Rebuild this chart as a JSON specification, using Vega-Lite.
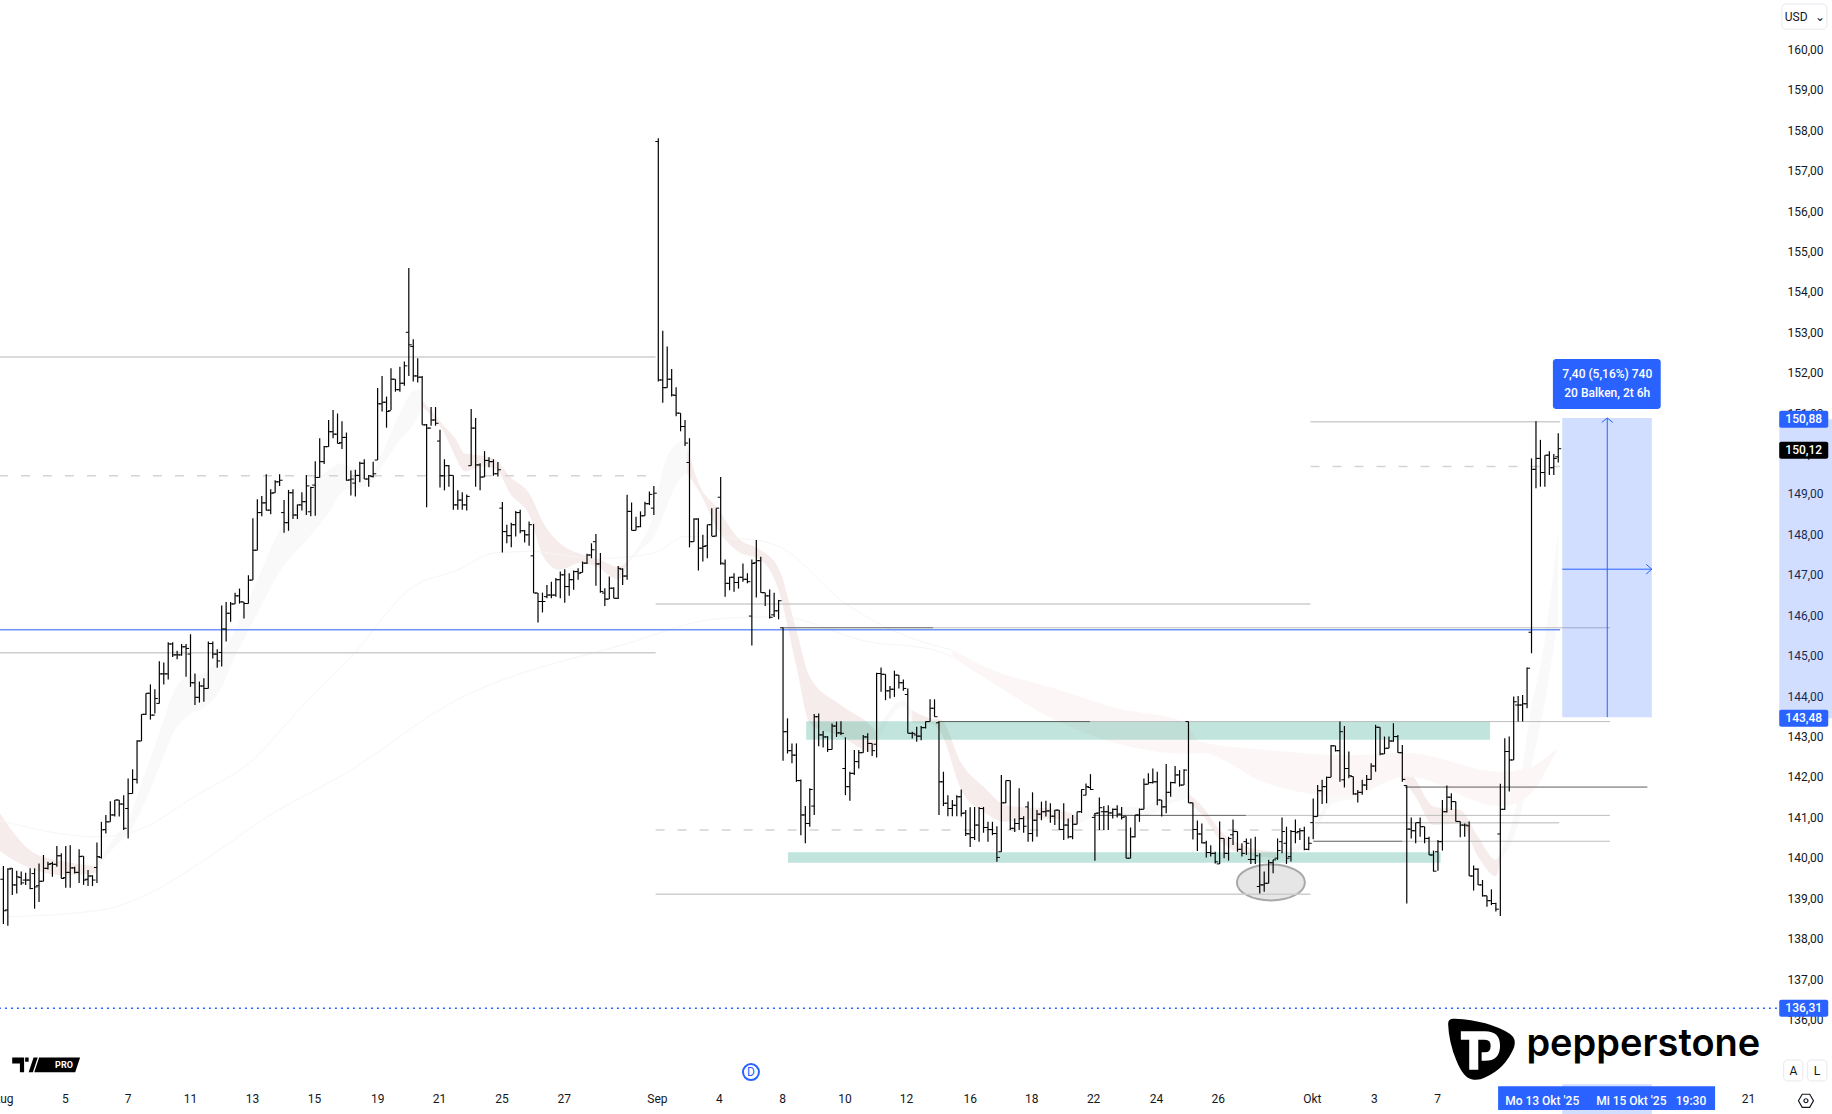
{
"$schema":"https://vega.github.io/schema/vega-lite/v6.json",
"width":1777,"height":1085,"autosize":{"type":"none"},"padding":{"left":0,"top":0,"right":55,"bottom":29},"background":"white",
"config":{"view":{"stroke":null},"font":"Roboto"},
"datasets":{
"bars":[
{"b":0,"o":139.47,"h":139.8,"l":138.36,"c":138.69},{"b":1,"o":138.71,"h":139.74,"l":138.32,"c":139.72},{"b":2,"o":139.74,"h":139.75,"l":139.08,"c":139.33},{"b":3,"o":139.33,"h":139.68,"l":139.12,"c":139.53},{"b":4,"o":139.51,"h":139.66,"l":139.33,"c":139.38},{"b":5,"o":139.45,"h":139.63,"l":139.33,"c":139.45},{"b":6,"o":139.45,"h":139.74,"l":139.22,"c":139.24},{"b":7,"o":139.61,"h":139.74,"l":138.74,"c":139.28},{"b":8,"o":139.31,"h":139.86,"l":138.91,"c":139.42},{"b":9,"o":139.42,"h":140.07,"l":139.42,"c":139.74},
{"b":10,"o":139.74,"h":139.9,"l":139.71,"c":139.84},{"b":11,"o":139.86,"h":139.9,"l":139.53,"c":139.84},{"b":12,"o":139.84,"h":140.29,"l":139.78,"c":140.05},{"b":13,"o":140.05,"h":140.11,"l":139.49,"c":139.49},{"b":14,"o":139.51,"h":140.29,"l":139.26,"c":139.64},{"b":15,"o":139.64,"h":140.31,"l":139.26,"c":139.75},{"b":16,"o":139.75,"h":139.78,"l":139.61,"c":139.64},{"b":17,"o":139.64,"h":140.21,"l":139.38,"c":140.03},{"b":18,"o":140.04,"h":140.04,"l":139.33,"c":139.45},{"b":19,"o":139.47,"h":139.7,"l":139.3,"c":139.55},
{"b":20,"o":139.55,"h":139.57,"l":139.3,"c":139.45},{"b":21,"o":139.76,"h":140.38,"l":139.38,"c":140.03},{"b":22,"o":140.01,"h":140.89,"l":139.98,"c":140.69},{"b":23,"o":140.7,"h":141.06,"l":140.6,"c":140.89},{"b":24,"o":140.89,"h":141.4,"l":140.89,"c":141.06},{"b":25,"o":141.06,"h":141.43,"l":141.02,"c":141.43},{"b":26,"o":141.43,"h":141.43,"l":141.02,"c":141.33},{"b":27,"o":141.33,"h":141.55,"l":140.69,"c":140.73},{"b":28,"o":141.22,"h":141.96,"l":140.48,"c":141.59},{"b":29,"o":141.59,"h":142.19,"l":141.59,"c":141.94},
{"b":30,"o":141.94,"h":142.91,"l":141.84,"c":142.89},{"b":31,"o":142.89,"h":143.55,"l":142.89,"c":143.55},{"b":32,"o":143.55,"h":144.07,"l":143.53,"c":144.07},{"b":33,"o":144.07,"h":144.29,"l":143.42,"c":143.53},{"b":34,"o":143.53,"h":144.17,"l":143.57,"c":143.94},{"b":35,"o":143.82,"h":144.86,"l":143.82,"c":144.55},{"b":36,"o":144.55,"h":144.83,"l":144.29,"c":144.55},{"b":37,"o":144.55,"h":145.33,"l":144.41,"c":145.29},{"b":38,"o":145.29,"h":145.33,"l":144.97,"c":145.02},{"b":39,"o":145.02,"h":145.12,"l":144.91,"c":145.02},
{"b":40,"o":145.02,"h":145.29,"l":145.0,"c":145.22},{"b":41,"o":145.22,"h":145.29,"l":144.48,"c":145.18},{"b":42,"o":145.04,"h":145.53,"l":144.23,"c":144.33},{"b":43,"o":144.33,"h":144.56,"l":143.78,"c":143.97},{"b":44,"o":143.97,"h":144.36,"l":143.84,"c":144.25},{"b":45,"o":144.25,"h":144.44,"l":143.86,"c":144.19},{"b":46,"o":144.19,"h":145.35,"l":144.19,"c":145.3},{"b":47,"o":145.3,"h":145.35,"l":144.93,"c":145.04},{"b":48,"o":145.04,"h":145.16,"l":144.7,"c":144.87},{"b":49,"o":145.08,"h":146.24,"l":144.73,"c":145.66},
{"b":50,"o":145.66,"h":146.33,"l":145.35,"c":146.05},{"b":51,"o":146.05,"h":146.33,"l":145.84,"c":146.28},{"b":52,"o":146.28,"h":146.56,"l":146.28,"c":146.48},{"b":53,"o":146.48,"h":146.66,"l":146.29,"c":146.33},{"b":54,"o":146.33,"h":146.33,"l":145.92,"c":146.29},{"b":55,"o":146.29,"h":146.99,"l":146.29,"c":146.87},{"b":56,"o":146.87,"h":148.4,"l":146.87,"c":147.61},{"b":57,"o":147.61,"h":148.87,"l":147.61,"c":148.54},{"b":58,"o":148.54,"h":148.95,"l":148.45,"c":148.78},{"b":59,"o":148.78,"h":149.49,"l":148.59,"c":148.6},
{"b":60,"o":148.6,"h":149.12,"l":148.5,"c":149.02},{"b":61,"o":149.03,"h":149.34,"l":149.03,"c":149.3},{"b":62,"o":149.3,"h":149.49,"l":149.2,"c":149.34},{"b":63,"o":148.54,"h":148.85,"l":148.04,"c":148.29},{"b":64,"o":148.29,"h":149.1,"l":148.09,"c":149.03},{"b":65,"o":149.03,"h":149.12,"l":148.38,"c":148.48},{"b":66,"o":148.48,"h":148.74,"l":148.38,"c":148.73},{"b":67,"o":148.73,"h":149.04,"l":148.59,"c":148.81},{"b":68,"o":148.81,"h":149.47,"l":148.48,"c":149.2},{"b":69,"o":148.56,"h":149.18,"l":148.45,"c":149.16},
{"b":70,"o":149.22,"h":149.81,"l":148.46,"c":149.41},{"b":71,"o":149.41,"h":150.38,"l":149.41,"c":149.8},{"b":72,"o":149.8,"h":150.19,"l":149.74,"c":150.17},{"b":73,"o":150.17,"h":150.83,"l":150.17,"c":150.54},{"b":74,"o":150.54,"h":151.08,"l":150.38,"c":150.48},{"b":75,"o":150.48,"h":150.99,"l":150.25,"c":150.25},{"b":76,"o":150.27,"h":150.8,"l":150.11,"c":150.4},{"b":77,"o":150.4,"h":150.52,"l":149.33,"c":149.34},{"b":78,"o":149.35,"h":149.58,"l":148.96,"c":149.37},{"b":79,"o":149.27,"h":149.6,"l":148.94,"c":149.46},
{"b":80,"o":149.46,"h":149.8,"l":149.29,"c":149.76},{"b":81,"o":149.76,"h":149.86,"l":149.37,"c":149.37},{"b":82,"o":149.37,"h":149.47,"l":149.18,"c":149.45},{"b":83,"o":149.43,"h":149.8,"l":149.41,"c":149.5},{"b":84,"o":149.84,"h":151.62,"l":149.84,"c":151.23},{"b":85,"o":151.23,"h":151.92,"l":151.04,"c":151.27},{"b":86,"o":151.27,"h":151.41,"l":150.64,"c":151.04},{"b":87,"o":151.06,"h":152.11,"l":151.08,"c":151.84},{"b":88,"o":151.84,"h":151.84,"l":151.53,"c":151.58},{"b":89,"o":151.58,"h":152.15,"l":151.53,"c":151.74},
{"b":90,"o":151.74,"h":152.28,"l":151.68,"c":152.17},{"b":91,"o":153.0,"h":154.59,"l":151.92,"c":152.69},{"b":92,"o":152.65,"h":152.83,"l":151.78,"c":151.92},{"b":93,"o":151.92,"h":152.36,"l":151.76,"c":151.89},{"b":94,"o":151.89,"h":151.92,"l":150.71,"c":150.71},{"b":95,"o":150.71,"h":150.73,"l":148.67,"c":150.63},{"b":96,"o":150.63,"h":151.15,"l":150.69,"c":150.83},{"b":97,"o":150.83,"h":151.15,"l":150.69,"c":150.75},{"b":98,"o":150.31,"h":150.59,"l":149.16,"c":149.45},{"b":99,"o":149.45,"h":149.86,"l":149.09,"c":149.7},
{"b":100,"o":149.7,"h":149.72,"l":149.18,"c":149.46},{"b":101,"o":149.46,"h":149.46,"l":148.61,"c":148.73},{"b":102,"o":148.73,"h":149.09,"l":148.61,"c":148.85},{"b":103,"o":148.85,"h":149.04,"l":148.61,"c":148.73},{"b":104,"o":148.73,"h":148.99,"l":148.59,"c":148.94},{"b":105,"o":149.7,"h":151.1,"l":149.7,"c":150.63},{"b":106,"o":150.63,"h":150.88,"l":149.18,"c":149.72},{"b":107,"o":149.72,"h":149.76,"l":149.09,"c":149.42},{"b":108,"o":149.42,"h":150.06,"l":149.42,"c":149.83},{"b":109,"o":149.83,"h":149.91,"l":149.66,"c":149.8},
{"b":110,"o":149.8,"h":149.86,"l":149.45,"c":149.5},{"b":111,"o":149.5,"h":149.79,"l":149.43,"c":149.6},{"b":112,"o":148.65,"h":148.8,"l":147.55,"c":148.07},{"b":113,"o":148.07,"h":148.24,"l":147.78,"c":147.97},{"b":114,"o":147.97,"h":148.29,"l":147.68,"c":148.24},{"b":115,"o":148.24,"h":148.58,"l":147.95,"c":148.54},{"b":116,"o":148.54,"h":148.61,"l":148.03,"c":148.09},{"b":117,"o":148.09,"h":148.11,"l":147.8,"c":147.99},{"b":118,"o":147.99,"h":148.32,"l":147.72,"c":148.24},{"b":119,"o":147.47,"h":148.26,"l":146.55,"c":146.55},
{"b":120,"o":146.55,"h":146.55,"l":145.82,"c":146.34},{"b":121,"o":146.34,"h":146.56,"l":146.07,"c":146.34},{"b":122,"o":146.46,"h":146.75,"l":146.42,"c":146.5},{"b":123,"o":146.5,"h":146.83,"l":146.42,"c":146.5},{"b":124,"o":146.5,"h":146.92,"l":146.46,"c":146.88},{"b":125,"o":146.88,"h":147.08,"l":146.42,"c":147.0},{"b":126,"o":147.0,"h":147.14,"l":146.31,"c":146.71},{"b":127,"o":146.71,"h":147.04,"l":146.48,"c":146.88},{"b":128,"o":146.88,"h":147.11,"l":146.63,"c":147.08},{"b":129,"o":147.08,"h":147.16,"l":146.88,"c":147.04},
{"b":130,"o":147.06,"h":147.33,"l":147.06,"c":147.29},{"b":131,"o":147.29,"h":147.52,"l":147.27,"c":147.49},{"b":132,"o":147.49,"h":147.78,"l":147.41,"c":147.62},{"b":133,"o":147.82,"h":148.01,"l":146.73,"c":147.27},{"b":134,"o":147.27,"h":147.54,"l":146.56,"c":146.59},{"b":135,"o":146.55,"h":146.67,"l":146.23,"c":146.4},{"b":136,"o":146.4,"h":146.96,"l":146.4,"c":146.67},{"b":137,"o":146.67,"h":146.69,"l":146.42,"c":146.42},{"b":138,"o":146.42,"h":147.22,"l":146.4,"c":147.16},{"b":139,"o":147.14,"h":147.16,"l":146.75,"c":146.97},
{"b":140,"o":146.97,"h":148.98,"l":146.88,"c":148.57},{"b":141,"o":148.57,"h":148.79,"l":148.1,"c":148.1},{"b":142,"o":148.1,"h":148.44,"l":148.1,"c":148.19},{"b":143,"o":148.19,"h":148.57,"l":148.18,"c":148.46},{"b":144,"o":148.46,"h":148.81,"l":148.46,"c":148.76},{"b":145,"o":148.76,"h":149.06,"l":148.73,"c":148.99},{"b":146,"o":148.65,"h":149.2,"l":148.48,"c":149.02},{"b":147,"o":157.72,"h":157.8,"l":151.78,"c":151.82},{"b":148,"o":151.82,"h":153.04,"l":151.26,"c":151.63},{"b":149,"o":151.63,"h":152.65,"l":151.63,"c":151.84},
{"b":150,"o":151.84,"h":152.09,"l":151.41,"c":151.45},{"b":151,"o":151.44,"h":151.64,"l":150.92,"c":151.0},{"b":152,"o":151.0,"h":151.0,"l":150.55,"c":150.67},{"b":153,"o":150.67,"h":150.83,"l":150.19,"c":150.26},{"b":154,"o":149.78,"h":150.38,"l":147.68,"c":147.82},{"b":155,"o":147.82,"h":148.4,"l":147.82,"c":148.38},{"b":156,"o":148.38,"h":148.4,"l":147.11,"c":147.66},{"b":157,"o":147.66,"h":147.99,"l":147.33,"c":147.7},{"b":158,"o":147.72,"h":148.24,"l":147.41,"c":148.24},{"b":159,"o":148.24,"h":148.65,"l":147.96,"c":147.95},
{"b":160,"o":147.96,"h":148.65,"l":147.95,"c":148.65},{"b":161,"o":148.92,"h":149.42,"l":147.25,"c":147.29},{"b":162,"o":147.27,"h":147.38,"l":146.46,"c":146.79},{"b":163,"o":146.79,"h":146.95,"l":146.62,"c":146.94},{"b":164,"o":146.94,"h":147.04,"l":146.58,"c":146.81},{"b":165,"o":146.81,"h":146.95,"l":146.66,"c":146.94},{"b":166,"o":146.94,"h":147.28,"l":146.83,"c":146.89},{"b":167,"o":146.89,"h":147.04,"l":146.79,"c":146.83},{"b":168,"o":145.98,"h":147.38,"l":145.25,"c":147.28},{"b":169,"o":147.3,"h":147.86,"l":146.44,"c":147.35},
{"b":170,"o":147.35,"h":147.45,"l":146.56,"c":146.56},{"b":171,"o":146.56,"h":146.56,"l":146.23,"c":146.48},{"b":172,"o":146.48,"h":146.64,"l":145.92,"c":145.95},{"b":173,"o":146.01,"h":146.56,"l":145.96,"c":146.11},{"b":174,"o":146.11,"h":146.38,"l":145.9,"c":146.36},{"b":175,"o":145.69,"h":145.7,"l":142.4,"c":143.12},{"b":176,"o":143.12,"h":143.45,"l":142.58,"c":142.65},{"b":177,"o":142.65,"h":142.83,"l":142.34,"c":142.54},{"b":178,"o":142.54,"h":142.83,"l":141.88,"c":141.91},{"b":179,"o":141.91,"h":141.94,"l":140.56,"c":141.06},
{"b":180,"o":141.06,"h":141.28,"l":140.36,"c":140.85},{"b":181,"o":140.85,"h":141.72,"l":140.77,"c":141.69},{"b":182,"o":141.28,"h":143.56,"l":141.06,"c":143.49},{"b":183,"o":143.49,"h":143.57,"l":142.76,"c":143.04},{"b":184,"o":143.04,"h":143.14,"l":142.73,"c":142.99},{"b":185,"o":142.99,"h":143.01,"l":142.62,"c":142.68},{"b":186,"o":142.68,"h":143.32,"l":142.68,"c":143.26},{"b":187,"o":143.26,"h":143.37,"l":142.99,"c":143.09},{"b":188,"o":143.09,"h":143.38,"l":143.04,"c":143.08},{"b":189,"o":142.21,"h":142.98,"l":141.55,"c":141.76},
{"b":190,"o":141.76,"h":142.13,"l":141.41,"c":142.09},{"b":191,"o":142.09,"h":142.67,"l":142.05,"c":142.38},{"b":192,"o":142.38,"h":142.67,"l":142.21,"c":142.6},{"b":193,"o":142.6,"h":143.04,"l":142.6,"c":142.99},{"b":194,"o":142.99,"h":143.08,"l":142.62,"c":142.83},{"b":195,"o":142.83,"h":142.83,"l":142.52,"c":142.65},{"b":196,"o":142.81,"h":144.58,"l":142.48,"c":144.56},{"b":197,"o":144.56,"h":144.71,"l":144.11,"c":144.54},{"b":198,"o":144.54,"h":144.54,"l":143.9,"c":144.13},{"b":199,"o":144.13,"h":144.25,"l":143.94,"c":144.17},
{"b":200,"o":144.17,"h":144.63,"l":143.98,"c":144.52},{"b":201,"o":144.52,"h":144.52,"l":144.19,"c":144.33},{"b":202,"o":144.33,"h":144.41,"l":144.13,"c":144.19},{"b":203,"o":144.04,"h":144.19,"l":143.08,"c":143.08},{"b":204,"o":143.08,"h":143.12,"l":142.95,"c":143.08},{"b":205,"o":143.04,"h":143.24,"l":142.87,"c":143.01},{"b":206,"o":143.01,"h":143.26,"l":142.91,"c":143.22},{"b":207,"o":143.22,"h":143.37,"l":143.2,"c":143.37},{"b":208,"o":143.37,"h":143.92,"l":143.37,"c":143.7},{"b":209,"o":143.7,"h":143.92,"l":143.49,"c":143.49},
{"b":210,"o":143.34,"h":143.37,"l":141.06,"c":141.88},{"b":211,"o":141.88,"h":142.13,"l":141.28,"c":141.35},{"b":212,"o":141.35,"h":141.55,"l":141.03,"c":141.22},{"b":213,"o":141.22,"h":141.43,"l":141.03,"c":141.3},{"b":214,"o":141.3,"h":141.55,"l":141.03,"c":141.51},{"b":215,"o":141.51,"h":141.69,"l":141.02,"c":141.1},{"b":216,"o":141.11,"h":141.18,"l":140.54,"c":140.6},{"b":217,"o":140.59,"h":141.25,"l":140.27,"c":140.5},{"b":218,"o":140.5,"h":141.26,"l":140.44,"c":140.81},{"b":219,"o":140.81,"h":141.26,"l":140.4,"c":141.22},
{"b":220,"o":141.22,"h":141.26,"l":140.62,"c":140.75},{"b":221,"o":140.75,"h":140.89,"l":140.4,"c":140.7},{"b":222,"o":140.7,"h":140.89,"l":140.56,"c":140.6},{"b":223,"o":140.6,"h":140.78,"l":139.9,"c":140.01},{"b":224,"o":140.15,"h":142.05,"l":140.15,"c":141.36},{"b":225,"o":141.36,"h":141.91,"l":141.35,"c":141.91},{"b":226,"o":141.91,"h":141.91,"l":140.69,"c":140.73},{"b":227,"o":140.73,"h":140.97,"l":140.64,"c":140.85},{"b":228,"o":140.85,"h":141.72,"l":140.69,"c":140.97},{"b":229,"o":140.97,"h":141.03,"l":140.62,"c":140.78},
{"b":230,"o":141.26,"h":141.39,"l":140.4,"c":140.6},{"b":231,"o":140.6,"h":141.62,"l":140.4,"c":140.93},{"b":232,"o":140.93,"h":141.18,"l":140.52,"c":141.08},{"b":233,"o":141.08,"h":141.39,"l":140.93,"c":141.14},{"b":234,"o":141.14,"h":141.41,"l":141.02,"c":141.16},{"b":235,"o":141.16,"h":141.35,"l":140.87,"c":141.03},{"b":236,"o":141.03,"h":141.18,"l":140.81,"c":141.18},{"b":237,"o":141.18,"h":141.18,"l":140.69,"c":140.7},{"b":238,"o":140.7,"h":141.35,"l":140.44,"c":140.81},{"b":239,"o":140.81,"h":140.97,"l":140.48,"c":140.52},
{"b":240,"o":140.52,"h":141.06,"l":140.46,"c":140.83},{"b":241,"o":140.83,"h":141.14,"l":140.83,"c":141.14},{"b":242,"o":141.14,"h":141.69,"l":141.11,"c":141.69},{"b":243,"o":141.55,"h":141.84,"l":141.55,"c":141.76},{"b":244,"o":141.74,"h":142.07,"l":141.68,"c":141.69},{"b":245,"o":141.0,"h":141.11,"l":139.93,"c":141.1},{"b":246,"o":141.11,"h":141.49,"l":140.69,"c":141.24},{"b":247,"o":141.14,"h":141.28,"l":140.69,"c":141.14},{"b":248,"o":141.14,"h":141.3,"l":140.69,"c":141.11},{"b":249,"o":141.11,"h":141.22,"l":140.97,"c":141.2},
{"b":250,"o":141.2,"h":141.3,"l":141.0,"c":141.08},{"b":251,"o":141.08,"h":141.26,"l":140.95,"c":141.0},{"b":252,"o":141.03,"h":141.03,"l":139.99,"c":139.99},{"b":253,"o":139.99,"h":140.75,"l":139.99,"c":140.52},{"b":254,"o":140.52,"h":141.06,"l":140.5,"c":141.06},{"b":255,"o":141.06,"h":141.22,"l":140.89,"c":141.2},{"b":256,"o":141.2,"h":141.96,"l":141.2,"c":141.82},{"b":257,"o":141.82,"h":142.09,"l":141.82,"c":141.86},{"b":258,"o":141.86,"h":142.21,"l":141.84,"c":141.88},{"b":259,"o":141.88,"h":142.13,"l":141.3,"c":141.43},
{"b":260,"o":141.43,"h":141.43,"l":141.02,"c":141.26},{"b":261,"o":141.26,"h":142.32,"l":141.1,"c":141.62},{"b":262,"o":141.62,"h":141.88,"l":141.51,"c":141.86},{"b":263,"o":141.86,"h":142.27,"l":141.84,"c":142.05},{"b":264,"o":142.05,"h":142.17,"l":141.76,"c":141.8},{"b":265,"o":141.8,"h":142.19,"l":141.8,"c":142.17},{"b":266,"o":143.37,"h":143.37,"l":141.36,"c":141.36},{"b":267,"o":141.36,"h":141.36,"l":140.45,"c":140.7},{"b":268,"o":140.7,"h":140.92,"l":140.17,"c":140.59},{"b":269,"o":140.59,"h":140.85,"l":140.36,"c":140.37},
{"b":270,"o":140.37,"h":140.42,"l":140.01,"c":140.13},{"b":271,"o":140.13,"h":140.31,"l":140.03,"c":140.11},{"b":272,"o":140.11,"h":140.15,"l":139.86,"c":139.9},{"b":273,"o":139.85,"h":140.9,"l":139.85,"c":140.48},{"b":274,"o":140.48,"h":140.48,"l":139.99,"c":140.11},{"b":275,"o":140.11,"h":140.52,"l":139.93,"c":140.48},{"b":276,"o":140.57,"h":140.95,"l":140.32,"c":140.65},{"b":277,"o":140.65,"h":140.65,"l":140.15,"c":140.21},{"b":278,"o":140.21,"h":140.36,"l":140.03,"c":140.11},{"b":279,"o":140.4,"h":140.48,"l":140.07,"c":140.36},
{"b":280,"o":139.96,"h":140.48,"l":139.85,"c":139.96},{"b":281,"o":139.96,"h":140.52,"l":139.85,"c":140.05},{"b":282,"o":139.29,"h":140.11,"l":139.12,"c":139.33},{"b":283,"o":139.33,"h":139.66,"l":139.16,"c":139.37},{"b":284,"o":139.37,"h":139.95,"l":139.37,"c":139.88},{"b":285,"o":139.88,"h":139.95,"l":139.62,"c":139.95},{"b":286,"o":139.99,"h":140.48,"l":139.95,"c":140.18},{"b":287,"o":140.4,"h":141.0,"l":140.11,"c":140.65},{"b":288,"o":140.36,"h":140.77,"l":139.85,"c":139.99},{"b":289,"o":140.03,"h":140.69,"l":139.91,"c":140.65},
{"b":290,"o":140.65,"h":140.95,"l":140.36,"c":140.62},{"b":291,"o":140.65,"h":140.73,"l":140.44,"c":140.67},{"b":292,"o":140.67,"h":140.77,"l":140.19,"c":140.21},{"b":293,"o":140.21,"h":140.52,"l":140.19,"c":140.36},{"b":294,"o":140.87,"h":141.47,"l":140.46,"c":141.02},{"b":295,"o":141.02,"h":141.8,"l":141.02,"c":141.66},{"b":296,"o":141.66,"h":141.93,"l":141.33,"c":141.76},{"b":297,"o":141.76,"h":142.01,"l":141.35,"c":141.99},{"b":298,"o":141.99,"h":142.79,"l":141.99,"c":142.77},{"b":299,"o":142.77,"h":142.77,"l":142.63,"c":142.65},
{"b":300,"o":142.65,"h":143.37,"l":141.88,"c":143.12},{"b":301,"o":141.93,"h":143.26,"l":141.74,"c":142.21},{"b":302,"o":142.21,"h":142.63,"l":141.97,"c":142.03},{"b":303,"o":142.01,"h":142.01,"l":141.56,"c":141.58},{"b":304,"o":141.58,"h":141.68,"l":141.37,"c":141.62},{"b":305,"o":141.62,"h":141.93,"l":141.56,"c":141.8},{"b":306,"o":141.8,"h":142.05,"l":141.68,"c":141.94},{"b":307,"o":141.94,"h":142.34,"l":141.93,"c":142.27},{"b":308,"o":142.27,"h":143.29,"l":142.13,"c":143.23},{"b":309,"o":143.23,"h":143.23,"l":142.54,"c":142.57},
{"b":310,"o":142.57,"h":143.0,"l":142.57,"c":142.71},{"b":311,"o":142.71,"h":143.0,"l":142.71,"c":142.89},{"b":312,"o":142.89,"h":143.33,"l":142.87,"c":143.0},{"b":313,"o":143.0,"h":143.04,"l":142.6,"c":142.6},{"b":314,"o":142.6,"h":142.79,"l":141.88,"c":141.94},{"b":315,"o":141.79,"h":141.79,"l":138.87,"c":140.71},{"b":316,"o":140.71,"h":141.0,"l":140.48,"c":140.67},{"b":317,"o":140.67,"h":140.87,"l":140.36,"c":140.87},{"b":318,"o":140.87,"h":141.0,"l":140.52,"c":140.77},{"b":319,"o":140.77,"h":140.77,"l":140.36,"c":140.48},
{"b":320,"o":140.48,"h":140.52,"l":140.07,"c":140.07},{"b":321,"o":140.07,"h":140.18,"l":139.66,"c":139.67},{"b":322,"o":140.15,"h":140.44,"l":139.68,"c":140.4},{"b":323,"o":140.4,"h":141.43,"l":140.18,"c":141.14},{"b":324,"o":141.14,"h":141.79,"l":141.12,"c":141.5},{"b":325,"o":141.5,"h":141.6,"l":141.18,"c":141.39},{"b":326,"o":141.39,"h":141.39,"l":140.9,"c":140.9},{"b":327,"o":140.9,"h":140.9,"l":140.51,"c":140.81},{"b":328,"o":140.81,"h":140.85,"l":140.52,"c":140.81},{"b":329,"o":140.79,"h":140.9,"l":139.55,"c":139.55},
{"b":330,"o":139.55,"h":139.81,"l":139.19,"c":139.72},{"b":331,"o":139.72,"h":139.74,"l":139.33,"c":139.33},{"b":332,"o":139.33,"h":139.45,"l":139.04,"c":139.06},{"b":333,"o":139.06,"h":139.06,"l":138.79,"c":138.94},{"b":334,"o":138.94,"h":139.22,"l":138.83,"c":138.87},{"b":335,"o":138.87,"h":138.89,"l":138.67,"c":138.73},{"b":336,"o":140.59,"h":141.83,"l":138.56,"c":141.2},{"b":337,"o":141.2,"h":142.96,"l":141.18,"c":142.63},{"b":338,"o":142.63,"h":143.0,"l":141.64,"c":142.42},{"b":339,"o":142.42,"h":143.99,"l":142.42,"c":143.86},
{"b":340,"o":143.78,"h":144.0,"l":143.37,"c":143.78},{"b":341,"o":143.78,"h":144.03,"l":143.37,"c":143.81},{"b":342,"o":143.81,"h":144.71,"l":143.7,"c":144.69},{"b":343,"o":145.58,"h":149.88,"l":145.06,"c":149.61},{"b":344,"o":149.61,"h":150.8,"l":149.14,"c":149.88},{"b":345,"o":149.88,"h":150.34,"l":149.18,"c":149.53},{"b":346,"o":149.53,"h":149.96,"l":149.18,"c":149.96},{"b":347,"o":149.96,"h":150.06,"l":149.47,"c":149.65},{"b":348,"o":149.65,"h":149.99,"l":149.47,"c":149.88},{"b":349,"o":149.92,"h":150.5,"l":149.78,"c":150.12}
],
"ribbons":[
{"s":"r1","k":"red","b":-1,"t":141.14,"u":140.19},{"s":"r1","k":"red","b":3,"t":140.52,"u":139.9},{"s":"r1","k":"red","b":7,"t":140.11,"u":139.7},{"s":"r1","k":"red","b":14,"t":139.9,"u":139.57},{"s":"r1","k":"red","b":21,"t":139.78,"u":139.63},
{"s":"g1","k":"gray","b":21,"t":139.82,"u":139.74},{"s":"g1","k":"gray","b":25,"t":140.52,"u":140.27},{"s":"g1","k":"gray","b":28,"t":140.93,"u":140.6},{"s":"g1","k":"gray","b":31,"t":141.84,"u":141.18},{"s":"g1","k":"gray","b":35,"t":143.08,"u":142.25},{"s":"g1","k":"gray","b":38.5,"t":144.15,"u":143.16},{"s":"g1","k":"gray","b":41,"t":144.48,"u":143.49},{"s":"g1","k":"gray","b":45,"t":144.56,"u":143.72},{"s":"g1","k":"gray","b":48,"t":144.89,"u":144.03},{"s":"g1","k":"gray","b":52,"t":145.63,"u":144.97},{"s":"g1","k":"gray","b":57,"t":146.87,"u":146.05},{"s":"g1","k":"gray","b":62,"t":148.11,"u":147.08},{"s":"g1","k":"gray","b":69,"t":149.18,"u":147.98},{"s":"g1","k":"gray","b":74,"t":149.67,"u":148.69},{"s":"g1","k":"gray","b":76,"t":149.76,"u":149.06},{"s":"g1","k":"gray","b":82,"t":149.43,"u":149.23},{"s":"g1","k":"gray","b":85,"t":150.01,"u":149.68},{"s":"g1","k":"gray","b":89,"t":151.0,"u":150.34},{"s":"g1","k":"gray","b":92,"t":151.54,"u":150.71},{"s":"g1","k":"gray","b":94,"t":151.59,"u":151.16},
{"s":"r2","k":"red","b":94,"t":151.33,"u":151.16},{"s":"r2","k":"red","b":99,"t":150.67,"u":150.5},{"s":"r2","k":"red","b":101.4,"t":150.38,"u":149.93},{"s":"r2","k":"red","b":103.6,"t":150.0,"u":149.56},{"s":"r2","k":"red","b":107.7,"t":149.94,"u":149.68},{"s":"r2","k":"red","b":110.7,"t":149.83,"u":149.6},{"s":"r2","k":"red","b":113.7,"t":149.43,"u":149.02},{"s":"r2","k":"red","b":118.2,"t":148.98,"u":148.44},{"s":"r2","k":"red","b":121.2,"t":148.28,"u":147.45},{"s":"r2","k":"red","b":124.9,"t":147.78,"u":147.12},{"s":"r2","k":"red","b":129.4,"t":147.52,"u":147.29},{"s":"r2","k":"red","b":133.2,"t":147.41,"u":147.2},{"s":"r2","k":"red","b":138,"t":147.2,"u":146.88},{"s":"r2","k":"red","b":140,"t":147.33,"u":147.25},
{"s":"g2","k":"gray","b":140,"t":147.33,"u":147.25},{"s":"g2","k":"gray","b":143,"t":147.78,"u":147.62},{"s":"g2","k":"gray","b":146,"t":148.53,"u":147.95},{"s":"g2","k":"gray","b":148,"t":149.6,"u":148.44},{"s":"g2","k":"gray","b":150.4,"t":150.17,"u":149.1},{"s":"g2","k":"gray","b":153.4,"t":150.34,"u":149.56},
{"s":"r3","k":"red","b":153.4,"t":150.17,"u":149.51},{"s":"r3","k":"red","b":156.4,"t":149.18,"u":149.02},{"s":"r3","k":"red","b":160,"t":148.69,"u":148.19},{"s":"r3","k":"red","b":165,"t":147.9,"u":147.57},{"s":"r3","k":"red","b":170,"t":147.61,"u":147.37},{"s":"r3","k":"red","b":174,"t":147.16,"u":146.62},{"s":"r3","k":"red","b":178,"t":145.63,"u":144.73},{"s":"r3","k":"red","b":181,"t":144.48,"u":143.33},{"s":"r3","k":"red","b":188,"t":143.78,"u":143.0},{"s":"r3","k":"red","b":195,"t":143.24,"u":142.62},{"s":"r3","k":"red","b":196,"t":143.12,"u":142.83},
{"s":"g3","k":"gray","b":196,"t":143.12,"u":142.83},{"s":"g3","k":"gray","b":202,"t":143.9,"u":143.74},{"s":"g3","k":"gray","b":204,"t":143.65,"u":143.33},
{"s":"r4","k":"red","b":204,"t":143.65,"u":143.33},{"s":"r4","k":"red","b":208,"t":143.45,"u":143.33},{"s":"r4","k":"red","b":210.5,"t":143.41,"u":143.08},{"s":"r4","k":"red","b":215,"t":142.34,"u":141.68},{"s":"r4","k":"red","b":220,"t":141.76,"u":141.14},{"s":"r4","k":"red","b":225,"t":141.3,"u":140.89},{"s":"r4","k":"red","b":228,"t":141.26,"u":140.93},{"s":"r4","k":"red","b":235,"t":141.22,"u":140.97},{"s":"r4","k":"red","b":241,"t":141.06,"u":140.81},
{"s":"g4","k":"gray","b":241,"t":141.06,"u":140.81},{"s":"g4","k":"gray","b":248,"t":141.26,"u":141.1},{"s":"g4","k":"gray","b":256,"t":141.26,"u":141.02},{"s":"g4","k":"gray","b":263,"t":141.72,"u":141.39},{"s":"g4","k":"gray","b":266,"t":141.72,"u":141.47},
{"s":"r5","k":"red","b":266,"t":141.59,"u":141.35},{"s":"r5","k":"red","b":269.4,"t":141.23,"u":141.02},{"s":"r5","k":"red","b":273,"t":140.69,"u":140.44},{"s":"r5","k":"red","b":278,"t":140.32,"u":140.11},{"s":"r5","k":"red","b":286,"t":140.15,"u":139.99},
{"s":"g5","k":"gray","b":286,"t":140.15,"u":139.99},{"s":"g5","k":"gray","b":293,"t":140.52,"u":140.36},{"s":"g5","k":"gray","b":298.5,"t":141.64,"u":141.35},{"s":"g5","k":"gray","b":304,"t":141.72,"u":141.5},{"s":"g5","k":"gray","b":310.6,"t":142.46,"u":142.01},{"s":"g5","k":"gray","b":313,"t":142.54,"u":142.09},
{"s":"r6","k":"red","b":313,"t":142.54,"u":142.09},{"s":"r6","k":"red","b":317,"t":141.93,"u":141.51},{"s":"r6","k":"red","b":321,"t":141.27,"u":140.81},{"s":"r6","k":"red","b":327,"t":141.18,"u":140.85},{"s":"r6","k":"red","b":331,"t":140.52,"u":140.03},{"s":"r6","k":"red","b":335,"t":139.95,"u":139.54},{"s":"r6","k":"red","b":336,"t":140.11,"u":139.95},
{"s":"g6","k":"gray","b":336,"t":140.11,"u":139.95},{"s":"g6","k":"gray","b":339.8,"t":141.43,"u":140.77},{"s":"g6","k":"gray","b":342.6,"t":143.49,"u":142.09},{"s":"g6","k":"gray","b":345.8,"t":145.23,"u":143.74},{"s":"g6","k":"gray","b":349,"t":148.11,"u":145.96},
{"s":"p1","k":"pale","b":213,"t":145.14,"u":144.97},{"s":"p1","k":"pale","b":221,"t":144.69,"u":144.4},{"s":"p1","k":"pale","b":236,"t":144.19,"u":143.41},{"s":"p1","k":"pale","b":250,"t":143.7,"u":142.83},{"s":"p1","k":"pale","b":265,"t":143.37,"u":142.58},{"s":"p1","k":"pale","b":268.6,"t":142.87,"u":142.59},{"s":"p1","k":"pale","b":283.6,"t":142.67,"u":141.84},{"s":"p1","k":"pale","b":302,"t":142.54,"u":141.51},{"s":"p1","k":"pale","b":315,"t":142.59,"u":142.01},{"s":"p1","k":"pale","b":336,"t":142.13,"u":141.27},{"s":"p1","k":"pale","b":342,"t":142.21,"u":141.51},{"s":"p1","k":"pale","b":348.7,"t":142.71,"u":142.67}
],
"averages":[
{"s":"a","b":-1,"p":140.93},{"s":"a","b":21,"p":140.52},{"s":"a","b":29,"p":140.64},{"s":"a","b":44,"p":141.59},{"s":"a","b":55,"p":142.33},{"s":"a","b":67,"p":143.74},{"s":"a","b":78,"p":144.97},{"s":"a","b":92,"p":146.71},{"s":"a","b":102,"p":147.12},{"s":"a","b":110,"p":147.54},{"s":"a","b":119,"p":147.58},{"s":"a","b":128,"p":147.45},{"s":"a","b":135,"p":147.41},{"s":"a","b":146,"p":147.54},{"s":"a","b":153,"p":147.95},{"s":"a","b":169,"p":147.86},{"s":"a","b":174,"p":147.7},{"s":"a","b":189,"p":146.29},{"s":"a","b":203,"p":145.47},{"s":"a","b":213,"p":145.14},
{"s":"c","b":1,"p":138.54},{"s":"c","b":22,"p":138.71},{"s":"c","b":32,"p":139.08},{"s":"c","b":44,"p":139.86},{"s":"c","b":59,"p":141.0},{"s":"c","b":78,"p":142.17},{"s":"c","b":100,"p":143.8},{"s":"c","b":140,"p":145.3},{"s":"c","b":161,"p":145.92},{"s":"c","b":174,"p":145.96},{"s":"c","b":194,"p":145.35},{"s":"c","b":209,"p":145.14},{"s":"c","b":213,"p":144.97}
],
"grayLines":[{"b0":-1,"b1":146.4,"p":152.39},{"b0":-1,"b1":146.4,"p":145.07},{"b0":146.4,"b1":293.4,"p":146.28},{"b0":146.4,"b1":293.4,"p":139.1},{"b0":293.4,"b1":349.4,"p":150.79},{"b0":294.4,"b1":349.2,"p":140.87}],
"dashLines":[{"b0":-1,"b1":144.7,"p":149.45},{"b0":146.4,"b1":287.2,"p":140.69},{"b0":293.4,"b1":349.4,"p":149.68}],
"darkLines":[{"b0":175,"b1":208.7,"p":145.69},{"b0":209.8,"b1":243.9,"p":143.37},{"b0":314.6,"b1":369,"p":141.75},{"b0":244.6,"b1":278.9,"p":141.05},{"b0":294,"b1":314,"p":140.41}],
"lightLines":[{"b0":208.7,"b1":360.6,"p":145.69},{"b0":243.9,"b1":360.6,"p":143.37},{"b0":278.9,"b1":360.6,"p":141.05},{"b0":314,"b1":360.6,"p":140.41}],
"blueLine":[{"b0":-1,"b1":349.4,"p":145.64}],
"lastLine":[{"b0":-1,"b1":398.6,"p":136.28}],
"zones":[{"b0":180.2,"b1":333.7,"p0":142.92,"p1":143.38},{"b0":176.1,"b1":322.6,"p0":139.88,"p1":140.14}],
"measure":[{"b0":349.9,"b1":370,"p0":143.48,"p1":150.88},{"b0":398.6,"b1":410.5,"p0":143.45,"p1":150.85},{"b0":349.9,"b1":370,"p0":133.66,"p1":134.4}],
"arrows":[{"b0":360,"b1":360,"p0":143.48,"p1":150.88},{"b0":358.77,"b1":360,"p0":150.77,"p1":150.88},{"b0":361.23,"b1":360,"p0":150.77,"p1":150.88},{"b0":349.9,"b1":370,"p0":147.14,"p1":147.14},{"b0":368.73,"b1":370,"p0":147.26,"p1":147.14},{"b0":368.73,"b1":370,"p0":147.02,"p1":147.14}],
"pill":[{"b0":347.8,"b1":372,"p0":151.1,"p1":152.34}],
"pillText":[{"b":360,"p":151.98,"t":"7,40 (5,16%) 740"},{"b":360,"p":151.49,"t":"20 Balken, 2t 6h"}],
"blueTags":[{"b0":398.6,"b1":409.6,"p0":150.64,"p1":151.06},{"b0":398.6,"b1":409.6,"p0":143.24,"p1":143.66},{"b0":398.6,"b1":409.6,"p0":136.07,"p1":136.49}],
"blackTag":[{"b0":398.6,"b1":409.6,"p0":149.87,"p1":150.29}],
"tagText":[{"b":404.1,"p":150.85,"t":"150,88"},{"b":404.1,"p":150.08,"t":"150,12"},{"b":404.1,"p":143.45,"t":"143,48"},{"b":404.1,"p":136.28,"t":"136,31"}],
"timeBox":[{"b0":335.5,"b1":384.2,"p0":133.76,"p1":134.35}],
"timeText":[{"b":345.4,"p":133.99,"t":"Mo 13 Okt '25"},{"b":365.4,"p":133.99,"t":"Mi 15 Okt '25"},{"b":378.8,"p":133.99,"t":"19:30"}],
"buttons":[{"b0":399.2,"b1":409.3,"p0":160.5,"p1":161.12},{"b0":399.6,"b1":403.9,"p0":134.48,"p1":135},{"b0":404.9,"b1":409.3,"p0":134.48,"p1":135}],
"buttonText":[{"b":402.4,"p":160.8,"t":"USD"},{"b":407.8,"p":160.8,"t":"⌄"},{"b":401.8,"p":134.73,"t":"A"},{"b":407.1,"p":134.73,"t":"L"}],
"ellipse":[{"b":284.5,"p":139.39}],
"gear":[{"b":404.6,"p":133.99}],
"dMark":[{"b":167.8,"p":134.7,"t":"D"}],
"tv":[{"b":9.6,"p":134.88}],
"pro":[{"b":13.6,"p":134.88,"t":"PRO"}],
"blob":[{"b":331.8,"p":135.27}],
"brand":[{"b":368.1,"p":135.37,"t":"pepperstone"}]
},
"encoding":{
"x":{"type":"quantitative","scale":{"domain":[-0.76,398.1],"nice":false,"zero":false},
"axis":{"orient":"bottom","title":null,"grid":false,"domain":false,"ticks":false,"labelColor":"#131722","labelFont":"Roboto","labelFontSize":12,"labelPadding":8,"labelOverlap":false,"labelBound":false,"labelFlush":false,
"values":[-0.2,13.8,27.9,41.9,55.8,69.7,83.9,97.8,111.8,125.8,146.7,160.6,174.8,188.8,202.6,216.9,230.7,244.6,258.7,272.6,293.7,307.6,321.8,391.6],
"labelExpr":"{'-0.2':'Aug','13.8':'5','27.9':'7','41.9':'11','55.8':'13','69.7':'15','83.9':'19','97.8':'21','111.8':'25','125.8':'27','146.7':'Sep','160.6':'4','174.8':'8','188.8':'10','202.6':'12','216.9':'16','230.7':'18','244.6':'22','258.7':'24','272.6':'26','293.7':'Okt','307.6':'3','321.8':'7','391.6':'21'}[datum.value]"}},
"y":{"type":"quantitative","scale":{"domain":[134.38,161.22],"nice":false,"zero":false},
"axis":{"orient":"right","title":null,"grid":false,"domain":false,"ticks":false,"labelColor":"#131722","labelFont":"Roboto","labelFontSize":12,"labelPadding":10,"labelAlign":"left","labelOverlap":false,"labelBound":false,"labelFlush":false,
"values":[136,137,138,139,140,141,142,143,144,145,146,147,148,149,150,151,152,153,154,155,156,157,158,159,160],
"labelExpr":"replace(format(datum.value,'.2f'),'.',',')"}}
},
"layer":[
{"data":{"name":"ribbons"},"mark":{"type":"area","interpolate":"monotone","clip":false},"encoding":{"x":{"field":"b"},"y":{"field":"t"},"y2":{"field":"u"},"detail":{"field":"s"},"color":{"field":"k","type":"nominal","legend":null,"scale":{"domain":["red","gray","pale"],"range":["#f6eceb","#faf9f9","#fcf7f6"]}}}},
{"data":{"name":"averages"},"mark":{"type":"line","interpolate":"monotone","color":"#f7f5f5","strokeWidth":1,"clip":false},"encoding":{"x":{"field":"b"},"y":{"field":"p"},"detail":{"field":"s"}}},
{"data":{"name":"zones"},"mark":{"type":"rect","color":"#1fa386","opacity":0.28},"encoding":{"x":{"field":"b0"},"x2":{"field":"b1"},"y":{"field":"p0"},"y2":{"field":"p1"}}},
{"data":{"name":"ellipse"},"mark":{"type":"point","shape":"M-1,0A1,0.53,0,1,0,1,0A1,0.53,0,1,0,-1,0Z","size":4624,"filled":true,"fill":"#e6e6e6","stroke":"#a8a8a8","strokeWidth":2,"opacity":1},"encoding":{"x":{"field":"b"},"y":{"field":"p"}}},
{"data":{"name":"grayLines"},"mark":{"type":"rule","color":"#cecece","strokeWidth":1.5},"encoding":{"x":{"field":"b0"},"x2":{"field":"b1"},"y":{"field":"p"}}},
{"data":{"name":"dashLines"},"mark":{"type":"rule","color":"#d4d4d4","strokeWidth":1.5,"strokeDash":[9,13]},"encoding":{"x":{"field":"b0"},"x2":{"field":"b1"},"y":{"field":"p"}}},
{"data":{"name":"lightLines"},"mark":{"type":"rule","color":"#bdbdbd","strokeWidth":1},"encoding":{"x":{"field":"b0"},"x2":{"field":"b1"},"y":{"field":"p"}}},
{"data":{"name":"darkLines"},"mark":{"type":"rule","color":"#5d5d5d","strokeWidth":1},"encoding":{"x":{"field":"b0"},"x2":{"field":"b1"},"y":{"field":"p"}}},
{"data":{"name":"blueLine"},"mark":{"type":"rule","color":"#6e94fb","strokeWidth":1.5},"encoding":{"x":{"field":"b0"},"x2":{"field":"b1"},"y":{"field":"p"}}},
{"data":{"name":"lastLine"},"mark":{"type":"rule","color":"#2962ff","strokeWidth":1.5,"strokeDash":[2,4]},"encoding":{"x":{"field":"b0"},"x2":{"field":"b1"},"y":{"field":"p"}}},
{"data":{"name":"measure"},"mark":{"type":"rect","color":"#2962ff","opacity":0.21},"encoding":{"x":{"field":"b0"},"x2":{"field":"b1"},"y":{"field":"p0"},"y2":{"field":"p1"}}},
{"data":{"name":"bars"},"mark":{"type":"rule","color":"#000000","strokeWidth":1.2},"encoding":{"x":{"field":"b"},"y":{"field":"h"},"y2":{"field":"l"}}},
{"data":{"name":"bars"},"mark":{"type":"tick","orient":"horizontal","color":"#000000","size":3,"thickness":1,"xOffset":-1.5,"opacity":1},"encoding":{"x":{"field":"b"},"y":{"field":"o"}}},
{"data":{"name":"bars"},"mark":{"type":"tick","orient":"horizontal","color":"#000000","size":3,"thickness":1,"xOffset":1.5,"opacity":1},"encoding":{"x":{"field":"b"},"y":{"field":"c"}}},
{"data":{"name":"arrows"},"mark":{"type":"rule","color":"#2962ff","strokeWidth":1},"encoding":{"x":{"field":"b0"},"x2":{"field":"b1"},"y":{"field":"p0"},"y2":{"field":"p1"}}},
{"data":{"name":"pill"},"mark":{"type":"rect","color":"#2962ff","cornerRadius":3,"opacity":1},"encoding":{"x":{"field":"b0"},"x2":{"field":"b1"},"y":{"field":"p0"},"y2":{"field":"p1"}}},
{"data":{"name":"pillText"},"mark":{"type":"text","color":"white","fontSize":12,"fontWeight":500,"font":"Roboto"},"encoding":{"x":{"field":"b"},"y":{"field":"p"},"text":{"field":"t"}}},
{"data":{"name":"blueTags"},"mark":{"type":"rect","color":"#2962ff","cornerRadius":2,"opacity":1},"encoding":{"x":{"field":"b0"},"x2":{"field":"b1"},"y":{"field":"p0"},"y2":{"field":"p1"}}},
{"data":{"name":"blackTag"},"mark":{"type":"rect","color":"#000000","cornerRadius":2,"opacity":1},"encoding":{"x":{"field":"b0"},"x2":{"field":"b1"},"y":{"field":"p0"},"y2":{"field":"p1"}}},
{"data":{"name":"tagText"},"mark":{"type":"text","color":"white","fontSize":12,"fontWeight":500,"font":"Roboto"},"encoding":{"x":{"field":"b"},"y":{"field":"p"},"text":{"field":"t"}}},
{"data":{"name":"timeBox"},"mark":{"type":"rect","color":"#2962ff","opacity":1},"encoding":{"x":{"field":"b0"},"x2":{"field":"b1"},"y":{"field":"p0"},"y2":{"field":"p1"}}},
{"data":{"name":"timeText"},"mark":{"type":"text","color":"white","fontSize":12,"fontWeight":500,"font":"Roboto"},"encoding":{"x":{"field":"b"},"y":{"field":"p"},"text":{"field":"t"}}},
{"data":{"name":"buttons"},"mark":{"type":"rect","fill":"white","stroke":"#e6e8ee","strokeWidth":1,"cornerRadius":4,"opacity":1},"encoding":{"x":{"field":"b0"},"x2":{"field":"b1"},"y":{"field":"p0"},"y2":{"field":"p1"}}},
{"data":{"name":"buttonText"},"mark":{"type":"text","color":"#131722","fontSize":12,"font":"Roboto"},"encoding":{"x":{"field":"b"},"y":{"field":"p"},"text":{"field":"t"}}},
{"data":{"name":"gear"},"mark":{"type":"point","shape":"M-1,0L-0.5,-0.87L0.5,-0.87L1,0L0.5,0.87L-0.5,0.87Z","size":225,"filled":false,"stroke":"#131722","strokeWidth":1.2,"opacity":1},"encoding":{"x":{"field":"b"},"y":{"field":"p"}}},
{"data":{"name":"gear"},"mark":{"type":"point","shape":"circle","size":16,"filled":false,"stroke":"#131722","strokeWidth":1.2,"opacity":1},"encoding":{"x":{"field":"b"},"y":{"field":"p"}}},
{"data":{"name":"dMark"},"mark":{"type":"point","shape":"circle","size":254,"filled":true,"fill":"white","stroke":"#2962ff","strokeWidth":2,"opacity":1},"encoding":{"x":{"field":"b"},"y":{"field":"p"}}},
{"data":{"name":"dMark"},"mark":{"type":"text","color":"#2962ff","fontSize":12,"font":"Roboto"},"encoding":{"x":{"field":"b"},"y":{"field":"p"},"text":{"field":"t"}}},
{"data":{"name":"tv"},"mark":{"type":"point","shape":"M-0.97,-0.21H-0.63V0.21H-0.75V-0.04H-0.97ZM-0.6,-0.21H-0.5V-0.09H-0.6ZM-0.5,0.21L-0.36,-0.21H-0.24L-0.38,0.21ZM-0.2,-0.21H0.97L0.83,0.21H-0.34Z","size":4900,"filled":true,"fill":"#000000","opacity":1},"encoding":{"x":{"field":"b"},"y":{"field":"p"}}},
{"data":{"name":"pro"},"mark":{"type":"text","color":"white","fontSize":9,"fontWeight":700,"font":"Roboto"},"encoding":{"x":{"field":"b"},"y":{"field":"p"},"text":{"field":"t"}}},
{"data":{"name":"blob"},"mark":{"type":"point","shape":"M-1,-0.75Q-1,-0.92,-0.8,-0.9Q0.2,-0.85,0.85,-0.45Q1.05,-0.3,0.97,-0.05Q0.7,0.6,0.1,0.85Q-0.1,0.95,-0.3,0.9Q-0.55,0.85,-0.75,0.35Q-0.98,-0.2,-1,-0.75Z","size":4489,"filled":true,"fill":"#000000","opacity":1},"encoding":{"x":{"field":"b"},"y":{"field":"p"}}},
{"data":{"name":"blob"},"mark":{"type":"point","shape":"M-0.62,-0.53H0.1Q0.55,-0.53,0.55,-0.1Q0.55,0.35,0.1,0.35H0V0.1H0.1Q0.27,0.1,0.27,-0.1Q0.27,-0.28,0.1,-0.28H-0.1V0.62H-0.37V-0.28H-0.62Z","size":4489,"filled":true,"fill":"#ffffff","opacity":1},"encoding":{"x":{"field":"b"},"y":{"field":"p"}}},
{"data":{"name":"brand"},"mark":{"type":"text","color":"#000000","fontSize":38,"fontWeight":600,"font":"Inter","letterSpacing":-0.5},"encoding":{"x":{"field":"b"},"y":{"field":"p"},"text":{"field":"t"}}}
]
}
